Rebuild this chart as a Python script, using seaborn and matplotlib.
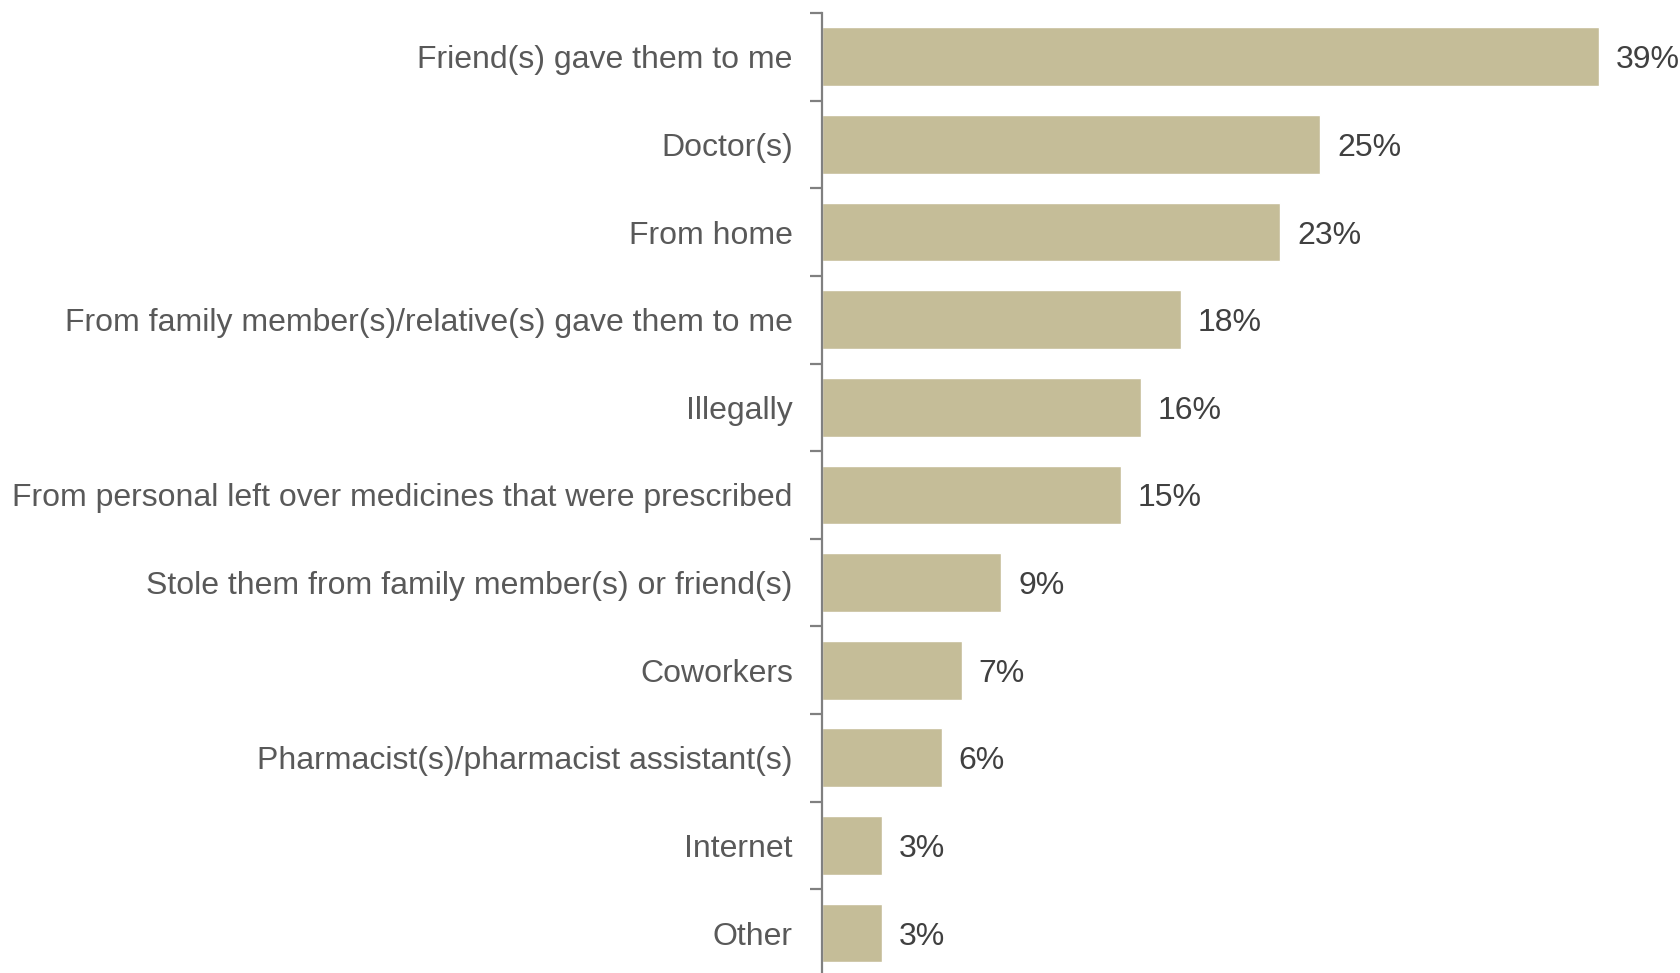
import matplotlib
matplotlib.use("Agg")
import matplotlib.pyplot as plt
import numpy as np
import pandas as pd
import seaborn as sns

categories = [
    "Friend(s) gave them to me",
    "Doctor(s)",
    "From home",
    "From family member(s)/relative(s) gave them to me",
    "Illegally",
    "From personal left over medicines that were prescribed",
    "Stole them from family member(s) or friend(s)",
    "Coworkers",
    "Pharmacist(s)/pharmacist assistant(s)",
    "Internet",
    "Other",
]
values = [39, 25, 23, 18, 16, 15, 9, 7, 6, 3, 3]
value_labels = [f"{v}%" for v in values]

sns.set_theme(style="white")
plt.rcParams["font.family"] = ["Liberation Sans", "DejaVu Sans"]

df = pd.DataFrame({"source": categories, "pct": values})

fig = plt.figure(figsize=(16.81, 9.73), dpi=100)
ax = fig.add_axes([0.489, -0.004, 0.511, 0.9906])

sns.barplot(data=df, x="pct", y="source", orient="h", color="#C5BD98",
            saturation=1, width=0.67, ax=ax)

ax.set_xlim(0, 43.1)
ax.set_ylim(len(categories) - 0.5, -0.5)
ax.set_xlabel("")
ax.set_ylabel("")
ax.set_xticks([])

for s in ["top", "right", "bottom"]:
    ax.spines[s].set_visible(False)
ax.spines["left"].set_color("#808080")
ax.spines["left"].set_linewidth(1.6)

ax.tick_params(axis="y", which="major", left=True, length=0, pad=21,
               labelsize=23, labelcolor="#595959")
ax.set_yticks(np.arange(-0.5, len(categories) + 0.5, 1), minor=True)
ax.tick_params(axis="y", which="minor", left=True, length=9, width=1.6,
               color="#808080", direction="out")

for patch, lab in zip(ax.patches, value_labels):
    w = patch.get_width()
    y = patch.get_y() + patch.get_height() / 2
    ax.annotate(lab, (w, y), xytext=(12, 0), textcoords="offset points",
                va="center_baseline", ha="left", fontsize=23, color="#404040")

fig.savefig("out.png", dpi=100)
